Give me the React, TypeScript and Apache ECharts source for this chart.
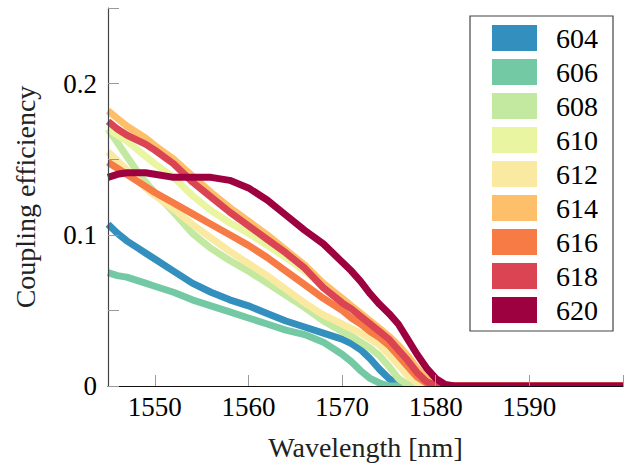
import React, { useEffect, useRef } from "react";
import * as echarts from "echarts";

const wavelengths = [1545, 1546, 1547, 1548, 1549, 1550, 1552, 1554, 1556, 1558, 1560, 1562, 1564, 1566, 1568, 1570, 1571, 1572, 1573, 1574, 1575, 1576, 1577, 1578, 1579, 1580, 1581, 1582, 1600];

const seriesNames = ["604", "606", "608", "610", "612", "614", "616", "618", "620"];
const seriesColors = ["#3390be", "#74c9a5", "#c3e8a0", "#eaf5a1", "#fae9a0", "#febf6b", "#f77b45", "#da4453", "#9e013f"];

const s604 = [0.107, 0.101, 0.096, 0.092, 0.088, 0.084, 0.076, 0.068, 0.062, 0.057, 0.053, 0.048, 0.043, 0.039, 0.035, 0.031, 0.028, 0.024, 0.018, 0.011, 0.005, 0.001, 0, 0, 0, 0, 0, 0, 0];
const s606 = [0.075, 0.073, 0.072, 0.070, 0.068, 0.066, 0.062, 0.057, 0.053, 0.049, 0.045, 0.041, 0.037, 0.034, 0.029, 0.021, 0.016, 0.010, 0.005, 0.002, 0, 0, 0, 0, 0, 0, 0, 0, 0];
const s608 = [0.170, 0.161, 0.152, 0.143, 0.135, 0.128, 0.115, 0.101, 0.091, 0.083, 0.076, 0.068, 0.060, 0.052, 0.043, 0.036, 0.033, 0.029, 0.025, 0.020, 0.013, 0.005, 0.001, 0, 0, 0, 0, 0, 0];
const s610 = [0.170, 0.166, 0.162, 0.157, 0.152, 0.147, 0.138, 0.126, 0.116, 0.108, 0.101, 0.093, 0.085, 0.076, 0.066, 0.058, 0.053, 0.048, 0.043, 0.038, 0.032, 0.025, 0.018, 0.010, 0.003, 0, 0, 0, 0];
const s612 = [0.155, 0.149, 0.143, 0.137, 0.131, 0.126, 0.117, 0.107, 0.098, 0.089, 0.081, 0.073, 0.064, 0.055, 0.047, 0.041, 0.038, 0.035, 0.031, 0.027, 0.021, 0.014, 0.007, 0.002, 0, 0, 0, 0, 0];
const s614 = [0.182, 0.177, 0.172, 0.168, 0.164, 0.159, 0.150, 0.139, 0.128, 0.118, 0.109, 0.100, 0.090, 0.080, 0.068, 0.058, 0.053, 0.048, 0.043, 0.038, 0.033, 0.027, 0.020, 0.012, 0.005, 0.001, 0, 0, 0];
const s616 = [0.148, 0.144, 0.140, 0.136, 0.132, 0.128, 0.121, 0.114, 0.107, 0.100, 0.093, 0.085, 0.076, 0.067, 0.058, 0.050, 0.045, 0.041, 0.036, 0.032, 0.027, 0.020, 0.013, 0.006, 0.002, 0, 0, 0, 0];
const s618 = [0.175, 0.170, 0.166, 0.163, 0.160, 0.156, 0.147, 0.135, 0.125, 0.115, 0.106, 0.097, 0.088, 0.078, 0.065, 0.055, 0.051, 0.046, 0.041, 0.036, 0.031, 0.024, 0.017, 0.009, 0.003, 0, 0, 0, 0];
const s620 = [0.138, 0.140, 0.141, 0.141, 0.141, 0.140, 0.138, 0.138, 0.138, 0.136, 0.131, 0.123, 0.113, 0.103, 0.094, 0.082, 0.076, 0.069, 0.061, 0.054, 0.048, 0.041, 0.031, 0.021, 0.012, 0.005, 0.001, 0, 0];

const seriesValues = [s604, s606, s608, s610, s612, s614, s616, s618, s620];

const xTickValues = [1550, 1560, 1570, 1580, 1590, 1600];
const xLabelValues = [1550, 1560, 1570, 1580, 1590];
const yTickValues = [0, 0.05, 0.1, 0.15, 0.2, 0.25];
const yLabelValues = [0, 0.1, 0.2];
const yLabelTexts = ["0", "0.1", "0.2"];

const FONT = "Liberation Serif";
const CSS = `.serif-chart text { font-family: "Liberation Serif", serif !important; }`;

export default function App() {
  const ref = useRef<HTMLDivElement>(null);

  useEffect(() => {
    document.body.style.margin = "0";
    if (!ref.current) return;
    const chart = echarts.init(ref.current, null, { renderer: "svg" });

    const series = seriesNames.map((name, i) => ({
      name,
      type: "line",
      data: wavelengths.map((x, j) => [x, seriesValues[i][j]]),
      showSymbol: false,
      symbol: "none",
      color: seriesColors[i],
      lineStyle: { width: 7, color: seriesColors[i], join: "round", cap: "butt" },
      smooth: false,
    }));

    chart.setOption({
      animation: false,
      backgroundColor: "#ffffff",
      textStyle: { fontFamily: FONT },
      grid: { left: 108, right: 7, top: 8, bottom: 83, containLabel: false },
      graphic: [
        {
          type: "rect",
          z: 5,
          silent: true,
          shape: { x: 100, y: 386.6, width: 530, height: 5 },
          style: { fill: "#ffffff" },
        },
      ],
      xAxis: {
        type: "value",
        min: 1545,
        max: 1600,
        z: 10,
        name: "Wavelength [nm]",
        nameLocation: "middle",
        nameGap: 47,
        nameTextStyle: { fontFamily: FONT, fontSize: 28, color: "#222", lineHeight: 28 },
        axisLine: { show: true, onZero: false, lineStyle: { color: "#111", width: 1.2 } },
        axisTick: { show: true, inside: true, length: 11, customValues: xTickValues, lineStyle: { color: "#9a9a9a", width: 1 } },
        axisLabel: {
          customValues: xLabelValues,
          fontFamily: FONT,
          fontSize: 27,
          lineHeight: 27,
          color: "#000",
          margin: 7,
          formatter: (v: number) => String(v),
        },
        splitLine: { show: false },
      },
      yAxis: {
        type: "value",
        min: 0,
        max: 0.25,
        interval: 0.05,
        z: 10,
        name: "Coupling efficiency",
        nameLocation: "middle",
        nameGap: 69,
        nameTextStyle: { fontFamily: FONT, fontSize: 28, color: "#222", lineHeight: 28 },
        axisLine: { show: true, onZero: false, lineStyle: { color: "#444", width: 1.2 } },
        axisTick: { show: true, inside: true, length: 11, customValues: yTickValues, lineStyle: { color: "#9a9a9a", width: 1 } },
        axisLabel: {
          customValues: yLabelValues,
          fontFamily: FONT,
          fontSize: 27,
          lineHeight: 27,
          color: "#000",
          margin: 11,
          formatter: (v: number) => {
            const k = yLabelValues.findIndex((y) => Math.abs(y - v) < 1e-9);
            return k >= 0 ? yLabelTexts[k] : "";
          },
        },
        splitLine: { show: false },
      },
      legend: {
        show: true,
        orient: "vertical",
        left: 470,
        top: 16,
        icon: "rect",
        itemWidth: 45,
        itemHeight: 26,
        itemGap: 6,
        padding: [8, 15, 7, 22],
        borderColor: "#444",
        borderWidth: 1.2,
        backgroundColor: "#fff",
        textStyle: { fontFamily: FONT, fontSize: 28, lineHeight: 26, color: "#000", padding: [0, 0, 0, 14] },
        data: seriesNames,
      },
      series,
    });

    return () => chart.dispose();
  }, []);

  return (
    <>
      <style>{CSS}</style>
      <div ref={ref} className="serif-chart" style={{ width: 630, height: 469 }} />
    </>
  );
}
